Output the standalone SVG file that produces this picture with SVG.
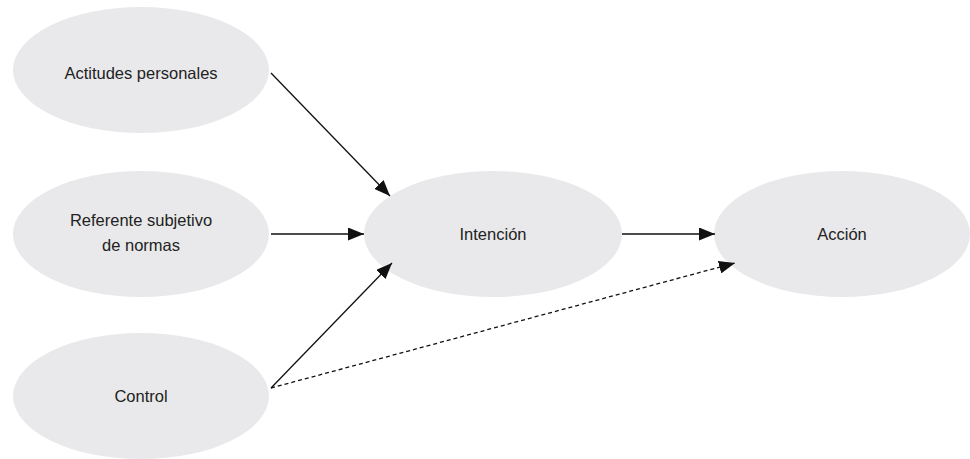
<svg xmlns="http://www.w3.org/2000/svg" width="970" height="459" viewBox="0 0 970 459">
  <style>
    .node ellipse { fill: #e9e9eb; }
    .node text { font-family: "Liberation Sans", Arial, sans-serif; font-size: 16.5px; fill: #222; text-anchor: middle; }
    .edge { stroke: #111; stroke-width: 1.3; fill: none; }
    .dash { stroke-dasharray: 4 3; }
  </style>
  <defs>
    <marker id="arrow" viewBox="0 0 16 13" refX="16" refY="6.5" markerWidth="16" markerHeight="13" markerUnits="userSpaceOnUse" orient="auto">
      <path d="M0,0 L16,6.5 L0,13 Z" fill="#111"/>
    </marker>
  </defs>
  <rect width="970" height="459" fill="#fff"/>

  <g id="actitudes" class="node">
    <ellipse cx="141" cy="70" rx="128" ry="63"/>
    <text x="141" y="79">Actitudes personales</text>
  </g>
  <g id="referente" class="node">
    <ellipse cx="141" cy="234" rx="128" ry="63"/>
    <text x="141" y="226">Referente subjetivo</text>
    <text x="141" y="251">de normas</text>
  </g>
  <g id="control" class="node">
    <ellipse cx="141" cy="396" rx="128" ry="63"/>
    <text x="141" y="402">Control</text>
  </g>
  <g id="intencion" class="node">
    <ellipse cx="493" cy="234" rx="129" ry="63"/>
    <text x="493" y="240">Intención</text>
  </g>
  <g id="accion" class="node">
    <ellipse cx="842" cy="234" rx="128" ry="63"/>
    <text x="842" y="240">Acción</text>
  </g>

  <g id="connectors">
    <line class="edge" x1="271" y1="73" x2="390" y2="196" marker-end="url(#arrow)"/>
    <line class="edge" x1="271" y1="234" x2="364" y2="234" marker-end="url(#arrow)"/>
    <line class="edge" x1="271" y1="388" x2="392" y2="263" marker-end="url(#arrow)"/>
    <line class="edge" x1="622" y1="234" x2="715" y2="234" marker-end="url(#arrow)"/>
    <line class="edge dash" x1="271" y1="388" x2="735" y2="263" marker-end="url(#arrow)"/>
  </g>
</svg>
